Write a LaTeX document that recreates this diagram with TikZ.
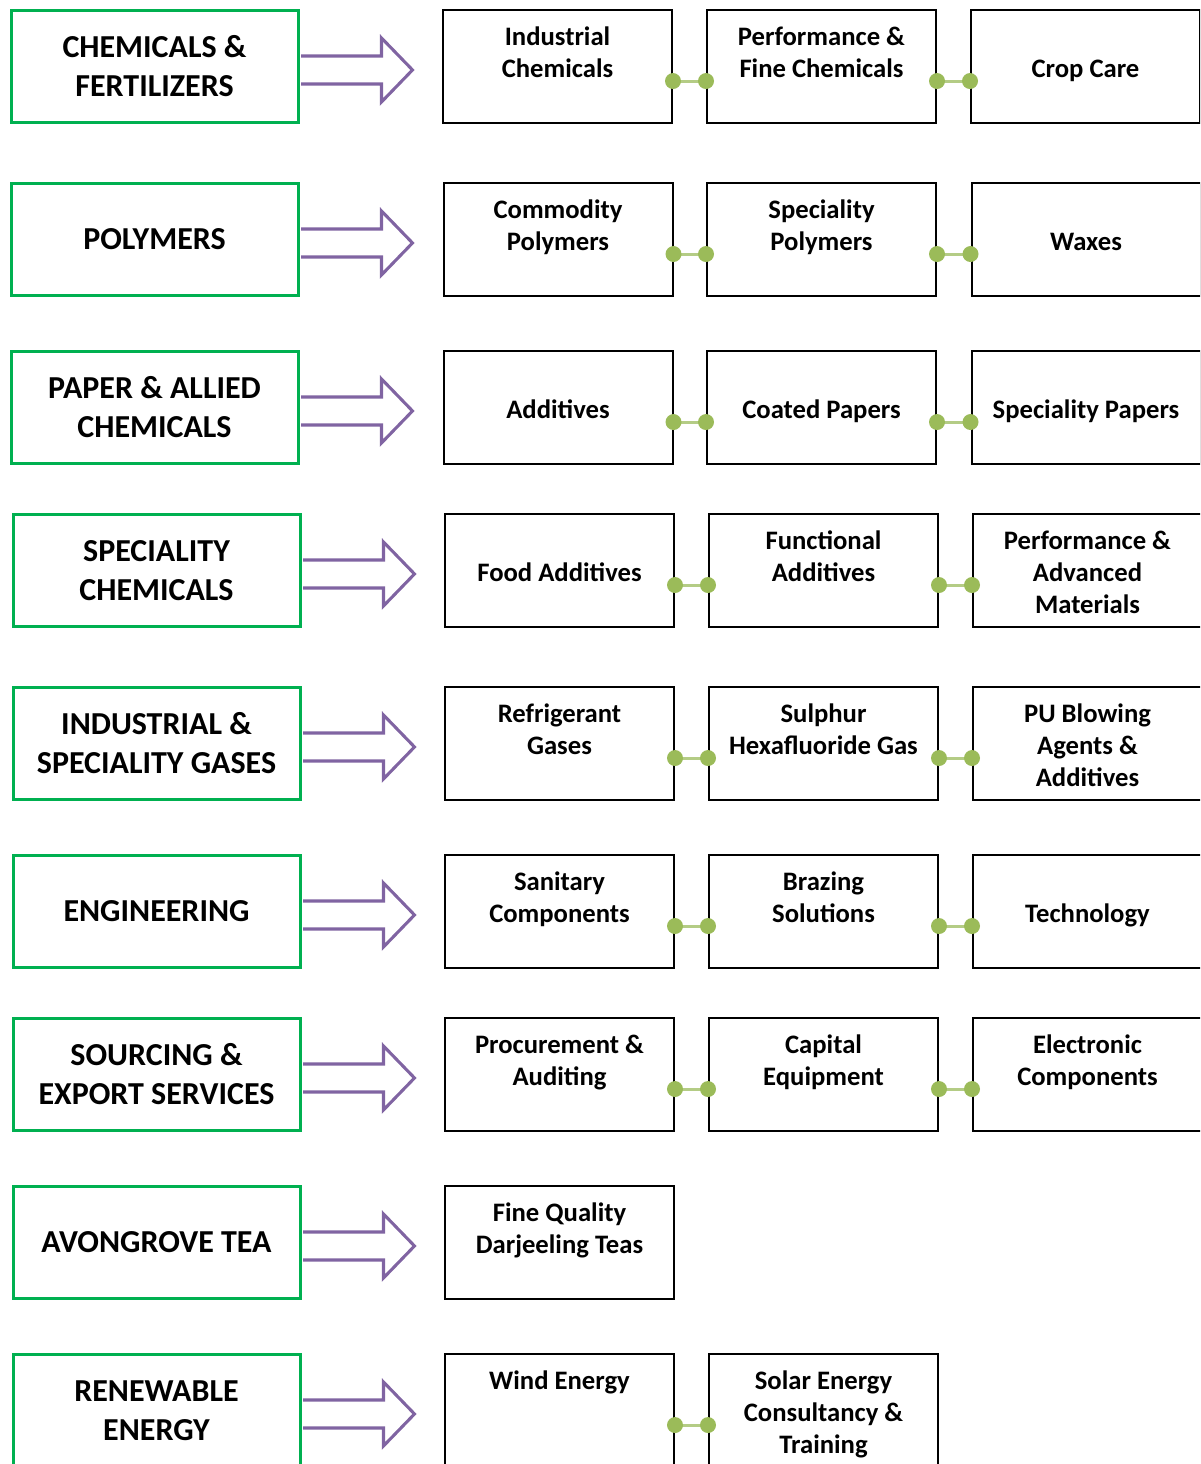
\documentclass[tikz,border=0pt]{standalone}
\usepackage{fontspec}
\setmainfont{Carlito}
\definecolor{grn}{HTML}{00B050}
\definecolor{purp}{HTML}{8064A2}
\definecolor{olive}{HTML}{9BBB59}
\definecolor{olivelt}{HTML}{B4CC85}
\tikzset{
 catbox/.style={draw=grn, line width=2.25pt, fill=white, minimum width=215.25pt, minimum height=84pt, inner sep=0pt, align=center, font=\fontsize{24}{29.3}\selectfont\bfseries},
 itembox/.style={draw=black, line width=1.5pt, fill=white, minimum width=171.75pt, minimum height=84.75pt, inner sep=0pt, align=center, font=\fontsize{20}{24}\selectfont\bfseries},
 blockarrow/.style={draw=purp, line width=2.3pt, line join=miter},
 linkline/.style={draw=olivelt, line width=2.2pt},
}
\newcommand\sst{\rule[-3.8pt]{0pt}{24pt}}
\newcommand\threeln[3]{\sst#1\\\sst#2\\\sst#3}
\newcommand\linkboxes[2]{%
 \draw[linkline] ([yshift=-10.9pt]#1.east) -- ([yshift=-10.9pt]#2.west);
 \fill[olive] ([yshift=-10.9pt]#1.east) circle (6pt) ([yshift=-10.9pt]#2.west) circle (6pt);}
\newcommand\catarrow[1]{%
 \draw[blockarrow, shorten <=1.2pt, shorten >=1.2pt] ([yshift=7.9pt]#1.east) -- ++(82,0) -- ++(0,-18) -- ++(31,32) -- ++(-31,32) -- ++(0,-18) -- ([yshift=-13.1pt]#1.east);}
\begin{document}
\begin{tikzpicture}[x=0.75pt, y=-0.75pt]
\useasboundingbox (0,0) rectangle (1200,1464);
\clip (0,0) rectangle (1200,1464);
% row 1
\node[catbox] (L1) at (154.5,66.5) {CHEMICALS \&\\FERTILIZERS};
\node[itembox] (A1) at (557.5,66.5) {\threeln{Industrial}{Chemicals}{}};
\node[itembox] (B1) at (821.5,66.5) {\threeln{Performance \&}{Fine Chemicals}{}};
\node[itembox] (C1) at (1085.5,66.5) {\sst Crop Care};
% row 2
\node[catbox] (L2) at (154.5,239.5) {POLYMERS};
\node[itembox] (A2) at (558,239.5) {\threeln{Commodity}{Polymers}{}};
\node[itembox] (B2) at (821.5,239.5) {\threeln{Speciality}{Polymers}{}};
\node[itembox] (C2) at (1086,239.5) {\sst Waxes};
% row 3
\node[catbox] (L3) at (154.5,407.5) {PAPER \& ALLIED\\CHEMICALS};
\node[itembox] (A3) at (558,407.5) {\sst Additives};
\node[itembox] (B3) at (821.5,407.5) {\sst Coated Papers};
\node[itembox] (C3) at (1086,407.5) {\sst Speciality Papers};
% row 4
\node[catbox] (L4) at (156.5,570.5) {SPECIALITY\\CHEMICALS};
\node[itembox] (A4) at (559.5,570.5) {\sst Food Additives};
\node[itembox] (B4) at (823.5,570.5) {\threeln{Functional}{Additives}{}};
\node[itembox] (C4) at (1087.5,570.5) {\threeln{Performance \&}{Advanced}{Materials}};
% row 5
\node[catbox] (L5) at (156.5,743.5) {INDUSTRIAL \&\\SPECIALITY GASES};
\node[itembox] (A5) at (559.5,743.5) {\threeln{Refrigerant}{Gases}{}};
\node[itembox] (B5) at (823.5,743.5) {\threeln{Sulphur}{Hexafluoride Gas}{}};
\node[itembox] (C5) at (1087.5,743.5) {\threeln{PU Blowing}{Agents \&}{Additives}};
% row 6
\node[catbox] (L6) at (156.5,911.5) {ENGINEERING};
\node[itembox] (A6) at (559.5,911.5) {\threeln{Sanitary}{Components}{}};
\node[itembox] (B6) at (823.5,911.5) {\threeln{Brazing}{Solutions}{}};
\node[itembox] (C6) at (1087.5,911.5) {\sst Technology};
% row 7
\node[catbox] (L7) at (156.5,1074.5) {SOURCING \&\\EXPORT SERVICES};
\node[itembox] (A7) at (559.5,1074.5) {\threeln{Procurement \&}{Auditing}{}};
\node[itembox] (B7) at (823.5,1074.5) {\threeln{Capital}{Equipment}{}};
\node[itembox] (C7) at (1087.5,1074.5) {\threeln{Electronic}{Components}{}};
% row 8
\node[catbox] (L8) at (156.5,1242.5) {AVONGROVE TEA};
\node[itembox] (A8) at (559.5,1242.5) {\threeln{Fine Quality}{Darjeeling Teas}{}};
% row 9
\node[catbox] (L9) at (156.5,1410.5) {RENEWABLE\\ENERGY};
\node[itembox] (A9) at (559.5,1410.5) {\threeln{Wind Energy}{}{}};
\node[itembox] (B9) at (823.5,1410.5) {\threeln{Solar Energy}{Consultancy \&}{Training}};
% arrows
\catarrow{L1}\catarrow{L2}\catarrow{L3}\catarrow{L4}\catarrow{L5}
\catarrow{L6}\catarrow{L7}\catarrow{L8}\catarrow{L9}
% links
\linkboxes{A1}{B1}\linkboxes{B1}{C1}
\linkboxes{A2}{B2}\linkboxes{B2}{C2}
\linkboxes{A3}{B3}\linkboxes{B3}{C3}
\linkboxes{A4}{B4}\linkboxes{B4}{C4}
\linkboxes{A5}{B5}\linkboxes{B5}{C5}
\linkboxes{A6}{B6}\linkboxes{B6}{C6}
\linkboxes{A7}{B7}\linkboxes{B7}{C7}
\linkboxes{A9}{B9}
\end{tikzpicture}
\end{document}
